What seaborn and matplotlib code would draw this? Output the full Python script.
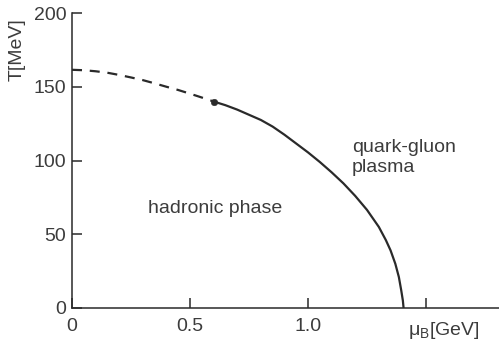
import matplotlib
matplotlib.use("Agg")
import matplotlib.pyplot as plt
import seaborn as sns
import pandas as pd

# Data
mu_dashed = [0.0, 0.05, 0.1, 0.15, 0.2, 0.25, 0.3, 0.35, 0.4, 0.45, 0.5, 0.55, 0.6]
T_dashed = [161.5, 161.2, 160.5, 159.5, 158, 156.3, 154.5, 152.3, 150, 147.8, 145.3, 142.7, 140]

mu_solid = [0.6, 0.65, 0.7, 0.75, 0.8, 0.85, 0.9, 0.95, 1.0, 1.05, 1.1, 1.15,
            1.2, 1.25, 1.3, 1.33, 1.35, 1.37, 1.385, 1.395, 1.402, 1.405]
T_solid = [140, 137.5, 134.5, 131, 127.5, 123, 117.5, 111.5, 105.5, 99, 92, 84.5,
           76, 66.5, 55, 46, 39, 30, 21, 12, 5, 0]

critical_mu = [0.6]
critical_T = [140]

x_ticks = [0, 0.5, 1.0, 1.5]
x_ticklabels = ["0", "0.5", "1.0", ""]
y_ticks = [0, 50, 100, 150, 200]
y_ticklabels = ["0", "50", "100", "150", "200"]

sns.set_style("ticks")
plt.rcParams["font.family"] = ["Liberation Sans", "DejaVu Sans"]
plt.rcParams["mathtext.fontset"] = "custom"
plt.rcParams["mathtext.rm"] = "Liberation Sans"
plt.rcParams["mathtext.it"] = "Liberation Sans"

ink = "#2a2a2a"
txt = "#3c3c3c"
fs = 14

fig = plt.figure(figsize=(4.99, 3.43), dpi=100)
ax = fig.add_axes([72 / 499, 35 / 343, 427 / 499, 295 / 343])

df_d = pd.DataFrame({"mu": mu_dashed, "T": T_dashed})
df_s = pd.DataFrame({"mu": mu_solid, "T": T_solid})

sns.lineplot(data=df_d, x="mu", y="T", ax=ax, color=ink, lw=1.6,
             linestyle=(0, (4.5, 3.5)), sort=False, estimator=None)
sns.lineplot(data=df_s, x="mu", y="T", ax=ax, color=ink, lw=1.6,
             sort=False, estimator=None)
sns.scatterplot(x=critical_mu, y=critical_T, ax=ax, color=ink, s=22,
                edgecolor=ink, zorder=5)

ax.set_xlim(0, 427 / 236)
ax.set_ylim(0, 200)
ax.set_xticks(x_ticks)
ax.set_xticklabels(x_ticklabels)
ax.set_yticks(y_ticks)
ax.set_yticklabels(y_ticklabels)
ax.tick_params(axis="both", direction="in", length=7, width=1.1,
               color=ink, labelcolor=txt, labelsize=fs)
ax.tick_params(axis="x", pad=7)
ax.tick_params(axis="y", pad=4)

for s in ["top", "right"]:
    ax.spines[s].set_visible(False)
for s in ["left", "bottom"]:
    ax.spines[s].set_color(ink)
    ax.spines[s].set_linewidth(1.1)

ax.set_xlabel("")
ax.set_ylabel("T[MeV]", fontsize=fs, color=txt)
ax.yaxis.set_label_coords(-0.108, 0.875)

ax.text(1.576, -0.075, r"μ$_\mathrm{B}$[GeV]", transform=ax.get_xaxis_transform(),
        ha="center", va="center", fontsize=fs, color=txt)

ax.text(0.322, 64.5, "hadronic phase", ha="left", va="baseline",
        fontsize=fs, color=txt)
ax.text(1.185, 106, "quark-gluon", ha="left", va="baseline",
        fontsize=fs, color=txt)
ax.text(1.185, 92, "plasma", ha="left", va="baseline",
        fontsize=fs, color=txt)

fig.savefig("out.png", dpi=100)
